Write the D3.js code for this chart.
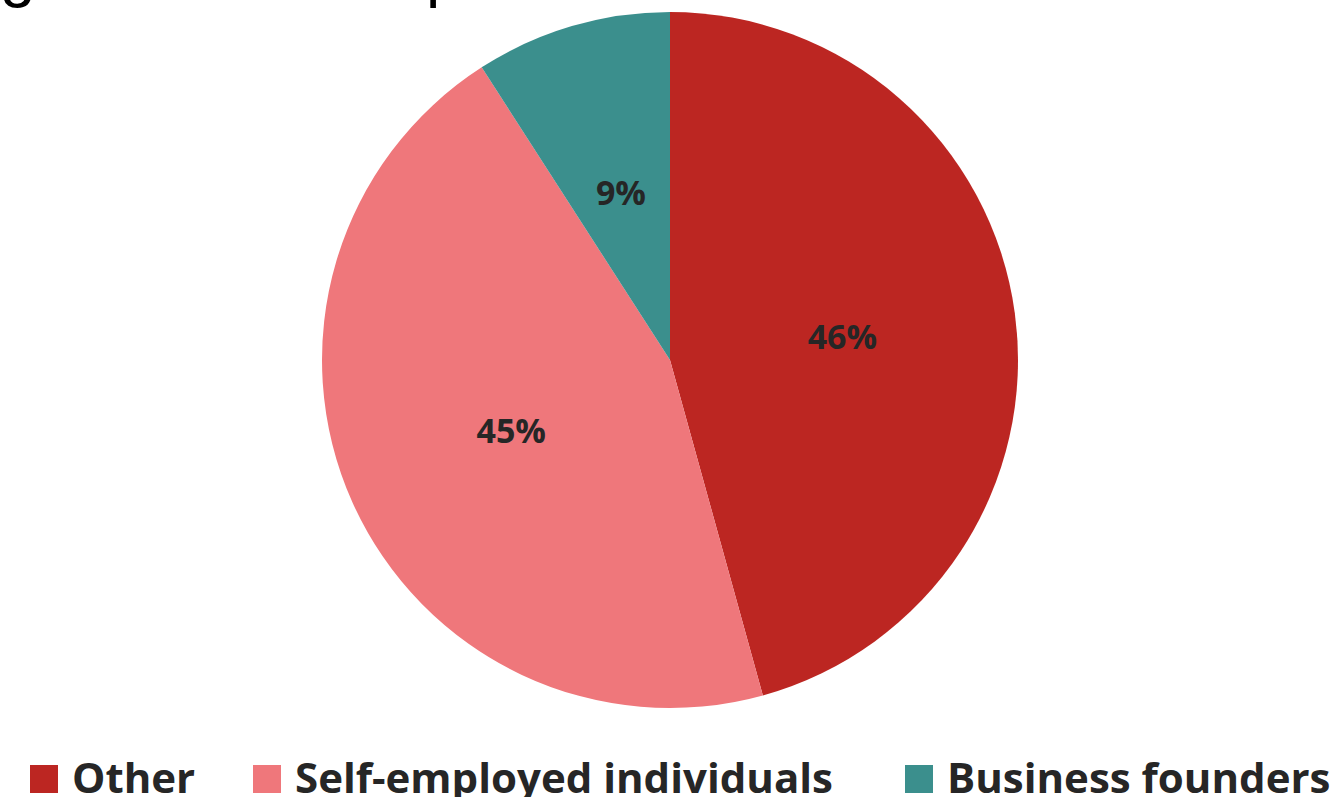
<!DOCTYPE html>
<html>
<head>
<meta charset="utf-8">
<script src="https://cdn.jsdelivr.net/npm/d3@7/dist/d3.min.js"></script>
<style>
  html, body { margin: 0; padding: 0; background: #ffffff; }
  svg { display: block; }
</style>
</head>
<body>
<svg id="chart" width="1341" height="797"></svg>
<script>
const categories = ["Other", "Self-employed individuals", "Business founders"];
const values = [45.7, 45.2, 9.1];
const colors = ["#BC2622", "#EF777B", "#3B8F8D"];
const legendX = [30, 253, 905];

const svg = d3.select("#chart");
const cx = 670, cy = 360, R = 348;

// Cropped title (only descenders visible)
const title = svg.append("g").attr("font-family", "'Liberation Sans', Arial, sans-serif")
  .attr("font-size", 64).attr("fill", "#000");
title.append("text").attr("x", 0).attr("y", -5.5).text("g");
title.append("text").attr("x", 426).attr("y", -5.5).text("p");

const data = categories.map((c, i) => ({ name: c, value: values[i], color: colors[i] }));
const pie = d3.pie().sort(null).value(d => d.value);
const arcs = pie(data);
const arc = d3.arc().innerRadius(0).outerRadius(R);

const g = svg.append("g").attr("transform", `translate(${cx},${cy})`);
g.selectAll("path").data(arcs).enter().append("path")
  .attr("d", arc)
  .attr("fill", d => d.data.color);

g.selectAll("text.lbl").data(arcs).enter().append("text")
  .attr("class", "lbl")
  .attr("transform", d => `translate(${arc.centroid(d)})`)
  .attr("text-anchor", "middle")
  .attr("dy", "0.36em")
  .attr("font-family", "'Open Sans', sans-serif")
  .attr("font-weight", 700)
  .attr("font-size", 34)
  .attr("fill", "#262626")
  .text(d => Math.round(d.data.value) + "%");

// Legend
const leg = svg.append("g");
const items = leg.selectAll("g").data(data).enter().append("g")
  .attr("transform", (d, i) => `translate(${legendX[i]},0)`);
items.append("rect").attr("x", 0).attr("y", 765).attr("width", 28).attr("height", 28)
  .attr("fill", d => d.color);
items.append("text").attr("x", 42).attr("y", 793)
  .attr("font-family", "'Open Sans', sans-serif")
  .attr("font-weight", 700)
  .attr("font-size", 42)
  .attr("fill", "#262626")
  .text(d => d.name);
</script>
</body>
</html>
